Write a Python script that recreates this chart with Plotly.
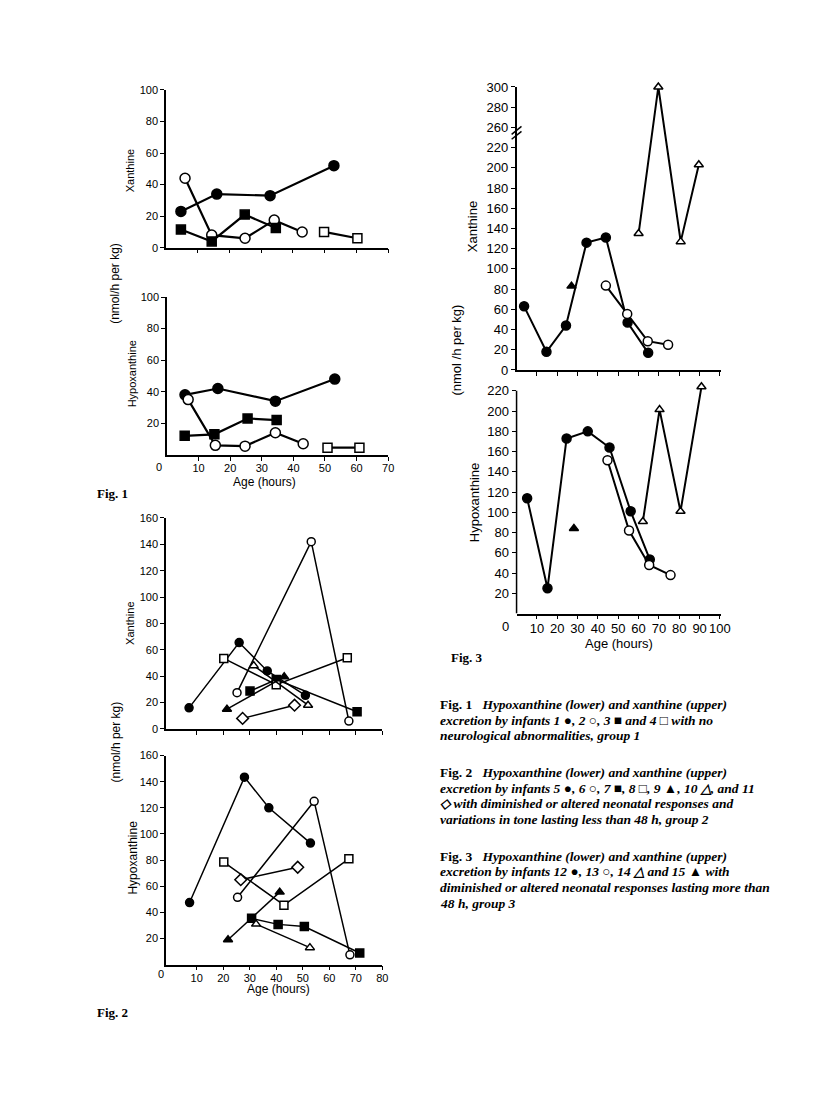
import plotly.graph_objects as go

# page has an 8px body margin, so the figure is 16px smaller than the window
W, H = 800, 1080
OFF = 8

# ---------- Fig 1 : group 1 (infants 1-4) ----------
f1_x_ages_1 = [4.7, 16, 32.8, 52.9]
f1_x_vals_1 = [23, 34, 33, 52]
f1_x_ages_2 = [6, 14.4, 24.9, 34.1, 42.9]
f1_x_vals_2 = [44, 8, 6, 17.5, 10]
f1_x_ages_3 = [4.7, 14.4, 24.8, 34.6]
f1_x_vals_3 = [11.5, 4, 21, 12.5]
f1_x_ages_4 = [49.8, 60.3]
f1_x_vals_4 = [10, 6]

f1_h_ages_1 = [5.7, 16.1, 34.3, 53.1]
f1_h_vals_1 = [38, 42, 34, 48]
f1_h_ages_2 = [6.7, 15.3, 24.7, 34.3, 43.1]
f1_h_vals_2 = [35, 6, 5.5, 14, 7]
f1_h_ages_3 = [5.6, 15, 25.5, 34.7]
f1_h_vals_3 = [12, 13, 23, 22]
f1_h_ages_4 = [50.8, 60.9]
f1_h_vals_4 = [4.5, 4.5]

# ---------- Fig 2 : group 2 (infants 5-11) ----------
f2_x_ages_5 = [7.1, 26, 36.6, 51]
f2_x_vals_5 = [16, 65.5, 44, 25.5]
f2_x_ages_6 = [25.2, 53.2, 67.4]
f2_x_vals_6 = [27.5, 142, 6]
f2_x_ages_7 = [30.1, 40, 70.5]
f2_x_vals_7 = [28.7, 37.5, 13]
f2_x_ages_8 = [20.2, 40, 66.8]
f2_x_vals_8 = [53.5, 33.5, 54]
f2_x_ages_9 = [21.4, 43]
f2_x_vals_9 = [15, 39.5]
f2_x_ages_10 = [31.5, 52]
f2_x_vals_10 = [48, 18]
f2_x_ages_11 = [27.3, 46.9]
f2_x_vals_11 = [8, 18]

f2_h_ages_5 = [7.3, 28, 37.2, 52.9]
f2_h_vals_5 = [47.5, 143.5, 120, 93]
f2_h_ages_6 = [25.4, 54.3, 67.8]
f2_h_vals_6 = [51.5, 125, 7.5]
f2_h_ages_7 = [30.7, 40.7, 50.6, 71.5]
f2_h_vals_7 = [35.4, 30.8, 29.1, 8.9]
f2_h_ages_8 = [20.2, 42.9, 67.4]
f2_h_vals_8 = [78.5, 45.5, 81]
f2_h_ages_9 = [21.8, 41.3]
f2_h_vals_9 = [19, 55.5]
f2_h_ages_10 = [32.4, 52.7]
f2_h_vals_10 = [31, 13]
f2_h_ages_11 = [26.6, 48.1]
f2_h_vals_11 = [65, 74.5]

# ---------- Fig 3 : group 3 (infants 12-15) ----------
f3_x_ages_12 = [3.7, 14.7, 24.3, 34.4, 43.9, 54.6, 64.7]
f3_x_vals_12 = [63, 18, 44, 126, 131, 47, 17]
f3_x_ages_13 = [43.9, 54.4, 64.5, 74.5]
f3_x_vals_13 = [83.5, 55.5, 28.5, 25]
f3_x_ages_14 = [60, 69.7, 80.7, 89.6]
f3_x_vals_14 = [135, 300, 127, 203]
f3_x_ages_15 = [27]
f3_x_vals_15 = [83]

f3_h_ages_12 = [5.2, 15.2, 24.6, 35, 45.7, 56.1, 65.5]
f3_h_vals_12 = [114, 25, 173, 180, 164, 101, 53.5]
f3_h_ages_13 = [44.7, 55.3, 65.2, 75.7]
f3_h_vals_13 = [151.5, 82, 48, 38]
f3_h_ages_14 = [62.1, 70.3, 80.6, 90.9]
f3_h_vals_14 = [91, 201.5, 101, 224]
f3_h_ages_15 = [28.2]
f3_h_vals_15 = [84]

# broken y axis of fig 3 (upper): 240 is cut out, 260 sits where 240 would be
BREAK_FROM, BREAK_GAP = 250, 20
f3_x_upper_ticks = [260, 280, 300]


def squash(vals):
    return [v - BREAK_GAP if v >= BREAK_FROM else v for v in vals]


SANS = "Liberation Sans, Arial, sans-serif"
SERIF = "Liberation Serif, Times New Roman, serif"


def fx(p):
    return (p - OFF) / W


def fy(p):
    return 1 - (p - OFF) / H


fig = go.Figure()


def add(xs, ys, n, symbol, filled, size, lw):
    fig.add_trace(go.Scatter(
        x=xs, y=ys, xaxis="x%d" % n if n > 1 else "x", yaxis="y%d" % n if n > 1 else "y",
        mode="lines+markers", cliponaxis=False, showlegend=False,
        line=dict(color="black", width=lw),
        marker=dict(symbol=symbol, size=size, color="black" if filled else "white",
                    line=dict(color="black", width=1.5)),
    ))


# fig 1
add(f1_x_ages_1, f1_x_vals_1, 1, "circle", True, 10, 2.2)
add(f1_x_ages_2, f1_x_vals_2, 1, "circle", False, 10, 2.2)
add(f1_x_ages_3, f1_x_vals_3, 1, "square", True, 9, 2.2)
add(f1_x_ages_4, f1_x_vals_4, 1, "square", False, 9, 2.2)
add(f1_h_ages_1, f1_h_vals_1, 2, "circle", True, 10, 2.2)
add(f1_h_ages_2, f1_h_vals_2, 2, "circle", False, 10, 2.2)
add(f1_h_ages_3, f1_h_vals_3, 2, "square", True, 9, 2.2)
add(f1_h_ages_4, f1_h_vals_4, 2, "square", False, 9, 2.2)

# fig 2
for n, sets in [(3, [(f2_x_ages_5, f2_x_vals_5), (f2_x_ages_6, f2_x_vals_6), (f2_x_ages_7, f2_x_vals_7),
                     (f2_x_ages_8, f2_x_vals_8), (f2_x_ages_9, f2_x_vals_9), (f2_x_ages_10, f2_x_vals_10),
                     (f2_x_ages_11, f2_x_vals_11)]),
                (4, [(f2_h_ages_5, f2_h_vals_5), (f2_h_ages_6, f2_h_vals_6), (f2_h_ages_7, f2_h_vals_7),
                     (f2_h_ages_8, f2_h_vals_8), (f2_h_ages_9, f2_h_vals_9), (f2_h_ages_10, f2_h_vals_10),
                     (f2_h_ages_11, f2_h_vals_11)])]:
    styles = [("circle", True, 8), ("circle", False, 8), ("square", True, 8), ("square", False, 8),
              ("triangle-up", True, 8), ("triangle-up", False, 8), ("diamond", False, 9)]
    for (xs, ys), (sym, filled, sz) in zip(sets, styles):
        add(xs, ys, n, sym, filled, sz, 1.5)

# fig 3
add(f3_x_ages_12, squash(f3_x_vals_12), 5, "circle", True, 9, 2)
add(f3_x_ages_13, squash(f3_x_vals_13), 5, "circle", False, 9, 2)
add(f3_x_ages_14, squash(f3_x_vals_14), 5, "triangle-up", False, 8, 2)
add(f3_x_ages_15, squash(f3_x_vals_15), 5, "triangle-up", True, 8, 2)
add(f3_h_ages_12, f3_h_vals_12, 6, "circle", True, 9, 2)
add(f3_h_ages_13, f3_h_vals_13, 6, "circle", False, 9, 2)
add(f3_h_ages_14, f3_h_vals_14, 6, "triangle-up", False, 8, 2)
add(f3_h_ages_15, f3_h_vals_15, 6, "triangle-up", True, 8, 2)


def xax(n, left, right, rng, ticks, labels, size):
    return dict(domain=[fx(left), fx(right)], range=rng, anchor="y%d" % n if n > 1 else "y",
                showline=True, linecolor="black", linewidth=1.5, ticks="outside", ticklen=4,
                tickwidth=1.3, tickcolor="black", tickvals=ticks, showticklabels=labels,
                tickangle=0, ticklabelstandoff=-2,
                tickfont=dict(family=SANS, size=size, color="black"),
                showgrid=False, zeroline=False, fixedrange=True)


def yax(n, bottom, top, rng, ticks, size, text=None, line=True):
    d = dict(domain=[fy(bottom), fy(top)], range=rng, anchor="x%d" % n if n > 1 else "x",
             showline=line, linecolor="black", linewidth=1.5, ticks="outside", ticklen=4,
             tickwidth=1.3, tickcolor="black", tickvals=ticks,
             tickfont=dict(family=SANS, size=size, color="black"),
             showgrid=False, zeroline=False, fixedrange=True)
    if text:
        d["ticktext"] = text
    return d


f3_up_ticks = list(range(0, 221, 20)) + squash(f3_x_upper_ticks)
f3_up_text = [str(v) for v in range(0, 221, 20)] + [str(v) for v in f3_x_upper_ticks]

fig.update_layout(
    width=W, height=H, margin=dict(l=0, r=0, t=0, b=0),
    paper_bgcolor="white", plot_bgcolor="white",
    xaxis=xax(1, 168, 393, [0, 70], list(range(10, 71, 10)), False, 11),
    yaxis=yax(1, 244, 84, [0, 100], list(range(0, 101, 20)), 11),
    xaxis2=xax(2, 169, 393, [0, 70], list(range(10, 71, 10)), True, 11),
    yaxis2=yax(2, 454, 294, [0, 100], list(range(20, 101, 20)), 11),
    xaxis3=xax(3, 168, 387, [-1.6, 80], list(range(10, 81, 10)), False, 11),
    yaxis3=yax(3, 732, 518, [0, 160], list(range(0, 161, 20)), 11),
    xaxis4=xax(4, 168, 387, [-1.6, 80], list(range(10, 81, 10)), True, 11),
    yaxis4=yax(4, 971, 759, [0, 160], list(range(20, 161, 20)), 11),
    xaxis5=xax(5, 523, 730, [0, 100.5], list(range(10, 101, 10)), False, 13),
    yaxis5=yax(5, 368, 81, [0, 280], f3_up_ticks, 13, f3_up_text),
    xaxis6=xax(6, 523, 730, [0, 100.5], list(range(10, 101, 10)), True, 13),
    # range goes a little past 220 so the last triangle is not hidden; the axis line stops at 220
    yaxis6=yax(6, 615, 383, [0, 226], list(range(20, 221, 20)), 13, line=False),
)

fig.add_shape(type="line", xref="x6 domain", yref="y6", x0=0, x1=0, y0=0, y1=220,
              line=dict(color="black", width=1.5))

ann = []


def text(x, y, s, size, family=SANS, angle=0, xanchor="center"):
    ann.append(dict(x=fx(x), y=fy(y), xref="paper", yref="paper", text=s, showarrow=False,
                    textangle=angle, xanchor=xanchor, yanchor="middle",
                    font=dict(family=family, size=size, color="black")))


# axis titles
text(131, 166, "Xanthine", 11, angle=-90)
text(134, 372, "Hypoxanthine", 11, angle=-90)
text(117, 280, "(nmol/h per kg)", 12, angle=-90)
text(268, 482, "Age (hours)", 12)
text(161, 466, "0", 11)

text(132, 625, "Xanthine", 11, angle=-90)
text(135, 862, "Hypoxanthine", 12, angle=-90)
text(117, 745, "(nmol/h per kg)", 12, angle=-90)
text(282, 996, "Age (hours)", 12)
text(163, 981, "0", 11)

text(478, 223, "Xanthine", 13, angle=-90)
text(480, 502, "Hypoxanthine", 13, angle=-90)
text(462, 348, "(nmol /h per kg)", 13, angle=-90)
text(627, 645, "Age (hours)", 13)
text(512, 628, "0", 13)

# figure labels
text(96, 493, "<b>Fig. 1</b>", 13, SERIF, xanchor="left")
text(96, 1020, "<b>Fig. 2</b>", 13, SERIF, xanchor="left")
text(455, 660, "<b>Fig. 3</b>", 13, SERIF, xanchor="left")

# captions
sp = "\u00a0\u00a0\u00a0"
captions = [
    (707, ["<b>Fig. 1</b>" + sp + "<b><i>Hypoxanthine (lower) and xanthine (upper)</i></b>",
           "<b><i>excretion by infants 1 \u25cf, 2 \u25cb, 3 \u25a0 and 4 \u25a1 with no</i></b>",
           "<b><i>neurological abnormalities, group 1</i></b>"]),
    (776, ["<b>Fig. 2</b>" + sp + "<b><i>Hypoxanthine (lower) and xanthine (upper)</i></b>",
           "<b><i>excretion by infants 5 \u25cf, 6 \u25cb, 7 \u25a0, 8 \u25a1, 9 \u25b2, 10 \u25b3, and 11</i></b>",
           "<b><i>\u25c7 with diminished or altered neonatal responses and</i></b>",
           "<b><i>variations in tone lasting less than 48 h, group 2</i></b>"]),
    (861, ["<b>Fig. 3</b>" + sp + "<b><i>Hypoxanthine (lower) and xanthine (upper)</i></b>",
           "<b><i>excretion by infants 12 \u25cf, 13 \u25cb, 14 \u25b3 and 15 \u25b2 with</i></b>",
           "<b><i>diminished or altered neonatal responses lasting more than</i></b>",
           "<b><i>48 h, group 3</i></b>"]),
]
for y0, lines in captions:
    for i, line in enumerate(lines):
        text(443, y0 + i * 16, line, 13.5, SERIF, xanchor="left")

fig.update_layout(annotations=ann)

# axis break marks on fig 3 xanthine axis
for dy in (0, 5):
    fig.add_shape(type="line", xref="paper", yref="paper",
                  x0=fx(518), y0=fy(129 + dy), x1=fx(528), y1=fy(121 + dy),
                  line=dict(color="black", width=1.5))

fig.write_html("out.html")
